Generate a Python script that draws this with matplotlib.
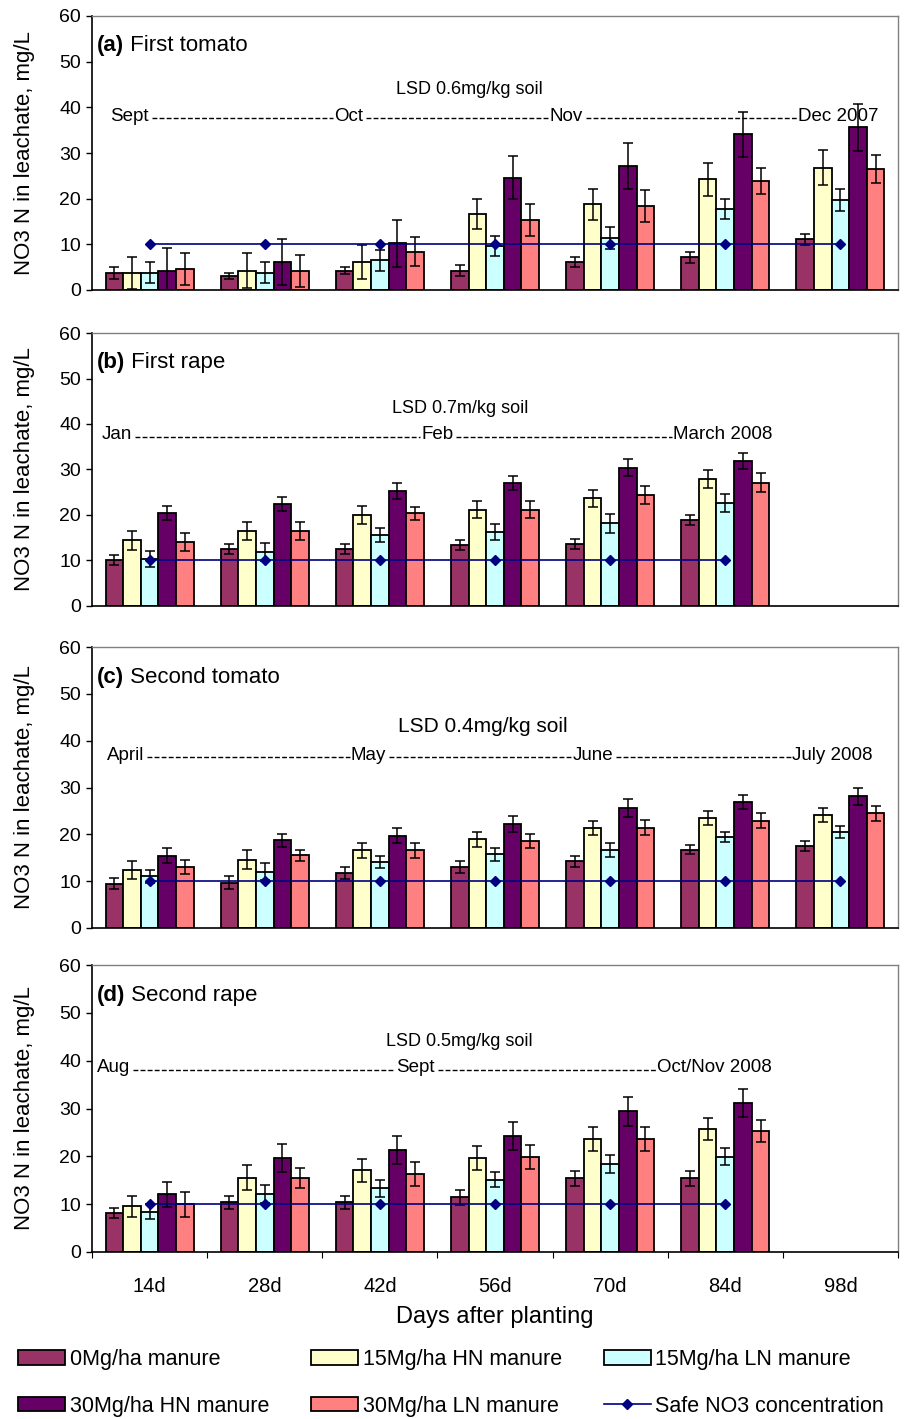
import matplotlib.pyplot as plt
from matplotlib.lines import Line2D

plt.rcParams['font.family'] = ['Liberation Sans', 'DejaVu Sans']

days = ['14d', '28d', '42d', '56d', '70d', '84d', '98d']
treatments = ['0Mg/ha manure', '15Mg/ha HN manure', '15Mg/ha LN manure',
              '30Mg/ha HN manure', '30Mg/ha LN manure']
colors = ['#993366', '#FFFFCC', '#CCFFFF', '#660066', '#FF8080']
safe_no3 = 10

# (a) first tomato
a_0 = [3.8, 3.1, 4.2, 4.2, 6.2, 7.2, 11.1]
a_15hn = [3.8, 4.2, 6.1, 16.6, 18.8, 24.2, 26.8]
a_15ln = [3.8, 3.8, 6.5, 9.7, 11.4, 17.7, 19.8]
a_30hn = [4.2, 6.1, 10.2, 24.6, 27.2, 34.1, 35.6]
a_30ln = [4.6, 4.2, 8.4, 15.3, 18.4, 23.9, 26.5]
a_0_err = [1.3, 0.7, 0.8, 1.2, 1.1, 1.2, 1.2]
a_15hn_err = [3.5, 3.8, 3.7, 3.3, 3.4, 3.7, 3.8]
a_15ln_err = [2.3, 2.3, 2.3, 2.2, 2.4, 2.2, 2.4]
a_30hn_err = [5.0, 5.0, 5.1, 4.7, 5.0, 4.9, 5.1]
a_30ln_err = [3.4, 3.5, 3.1, 3.5, 3.4, 2.9, 3.0]

# (b) first rape
b_0 = [10.1, 12.5, 12.5, 13.3, 13.6, 18.8]
b_15hn = [14.4, 16.5, 20.0, 21.2, 23.7, 27.9]
b_15ln = [10.3, 11.9, 15.6, 16.3, 18.2, 22.7]
b_30hn = [20.4, 22.4, 25.3, 27.1, 30.4, 31.9]
b_30ln = [14.0, 16.5, 20.4, 21.2, 24.4, 27.1]
b_0_err = [1.1, 1.1, 1.1, 1.1, 1.1, 1.1]
b_15hn_err = [2.0, 1.9, 1.9, 1.9, 1.9, 2.0]
b_15ln_err = [1.7, 2.0, 1.6, 1.7, 2.1, 2.0]
b_30hn_err = [1.5, 1.5, 1.8, 1.5, 1.8, 1.7]
b_30ln_err = [2.0, 1.9, 1.4, 1.9, 1.9, 2.1]

# (c) second tomato
c_0 = [9.5, 9.7, 11.8, 13.0, 14.2, 16.7, 17.5]
c_15hn = [12.3, 14.6, 16.6, 19.0, 21.4, 23.4, 24.1]
c_15ln = [11.0, 12.0, 14.1, 15.7, 16.7, 19.4, 20.5]
c_30hn = [15.4, 18.7, 19.7, 22.2, 25.7, 26.9, 28.1]
c_30ln = [13.1, 15.5, 16.6, 18.6, 21.4, 22.9, 24.5]
c_0_err = [1.2, 1.4, 1.3, 1.3, 1.2, 1.0, 1.1]
c_15hn_err = [1.9, 2.0, 1.6, 1.6, 1.5, 1.5, 1.5]
c_15ln_err = [1.4, 1.8, 1.3, 1.3, 1.5, 1.1, 1.2]
c_30hn_err = [1.6, 1.4, 1.6, 1.8, 1.9, 1.5, 1.9]
c_30ln_err = [1.5, 1.2, 1.6, 1.5, 1.6, 1.6, 1.6]

# (d) second rape
d_0 = [8.2, 10.4, 10.4, 11.4, 15.4, 15.4]
d_15hn = [9.6, 15.5, 17.1, 19.6, 23.6, 25.7]
d_15ln = [8.4, 12.1, 13.3, 15.1, 18.4, 19.9]
d_30hn = [12.1, 19.6, 21.3, 24.3, 29.4, 31.2]
d_30ln = [10.0, 15.5, 16.3, 19.9, 23.6, 25.3]
d_0_err = [1.1, 1.4, 1.4, 1.6, 1.6, 1.6]
d_15hn_err = [2.2, 2.6, 2.4, 2.5, 2.5, 2.3]
d_15ln_err = [1.6, 1.9, 1.8, 1.6, 1.8, 1.8]
d_30hn_err = [2.6, 2.9, 3.0, 2.9, 3.0, 2.9]
d_30ln_err = [2.6, 2.1, 2.5, 2.5, 2.5, 2.2]

a_months = [('Sept', -0.34, 'left'), ('Oct', 1.73, 'center'),
            ('Nov', 3.62, 'center'), ('Dec 2007', 6.33, 'right')]
b_months = [('Jan', -0.42, 'left'), ('Feb', 2.50, 'center'),
            ('March 2008', 5.41, 'right')]
c_months = [('April', -0.37, 'left'), ('May', 1.90, 'center'),
            ('June', 3.85, 'center'), ('July 2008', 6.28, 'right')]
d_months = [('Aug', -0.46, 'left'), ('Sept', 2.31, 'center'),
            ('Oct/Nov 2008', 5.40, 'right')]

panels = [
    ('(a)', 'First tomato', [a_0, a_15hn, a_15ln, a_30hn, a_30ln],
     [a_0_err, a_15hn_err, a_15ln_err, a_30hn_err, a_30ln_err],
     'LSD 0.6mg/kg soil', 2.78, 43.8, 13, a_months, 38.1, (16, 290)),
    ('(b)', 'First rape', [b_0, b_15hn, b_15ln, b_30hn, b_30ln],
     [b_0_err, b_15hn_err, b_15ln_err, b_30hn_err, b_30ln_err],
     'LSD 0.7m/kg soil', 2.70, 43.5, 13, b_months, 37.6, (333, 606)),
    ('(c)', 'Second tomato', [c_0, c_15hn, c_15ln, c_30hn, c_30ln],
     [c_0_err, c_15hn_err, c_15ln_err, c_30hn_err, c_30ln_err],
     'LSD 0.4mg/kg soil', 2.89, 43.0, 15, c_months, 36.8, (647, 928)),
    ('(d)', 'Second rape', [d_0, d_15hn, d_15ln, d_30hn, d_30ln],
     [d_0_err, d_15hn_err, d_15ln_err, d_30hn_err, d_30ln_err],
     'LSD 0.5mg/kg soil', 2.69, 44.1, 13, d_months, 38.5, (965, 1252)),
]

W, H = 906, 1419
fig = plt.figure(figsize=(W / 100, H / 100), dpi=100)

bw = 0.153
month_texts = []
for tag, name, means, errs, lsd, lsd_x, lsd_y, lsd_fs, months, month_y, (top, bot) in panels:
    ax = fig.add_axes([92 / W, 1 - bot / H, 806 / W, (bot - top) / H])
    n = len(means[0])
    x = list(range(n))
    handles = []
    for k in range(5):
        xs = [xi + (k - 2) * bw for xi in x]
        h = ax.bar(xs, means[k], bw, color=colors[k], edgecolor='black',
                   linewidth=1.3, zorder=2, label=treatments[k])
        ax.errorbar(xs, means[k], yerr=errs[k], fmt='none', ecolor='black',
                    elinewidth=1.1, capsize=3.4, capthick=1.1, zorder=3)
        handles.append(h)
    ln, = ax.plot(x, [safe_no3] * n, color='#000080', lw=1.2, marker='D',
                  ms=5.2, zorder=4, label='Safe NO3 concentration')
    handles.append(ln)

    ax.set_xlim(-0.5, 6.5)
    ax.set_ylim(0, 60)
    ax.set_yticks(range(0, 61, 10))
    ax.tick_params(axis='y', direction='out', length=4, width=1, pad=4,
                   labelsize=14)
    for s in ('left', 'bottom'):
        ax.spines[s].set_color('black')
        ax.spines[s].set_linewidth(1.2)
    for s in ('top', 'right'):
        ax.spines[s].set_color('#808080')
        ax.spines[s].set_linewidth(1.0)
    ax.set_ylabel('NO3 N in leachate, mg/L', fontsize=16)
    ax.yaxis.set_label_coords(-0.071, 0.5)

    t = ax.text(0.006, 0.893, tag, transform=ax.transAxes, fontsize=16,
                fontweight='bold', va='center', ha='left')
    ax.annotate(' ' + name, xy=(1, 0), xycoords=t, va='bottom', ha='left',
                fontsize=16)
    ax.text(lsd_x, lsd_y, lsd, fontsize=lsd_fs, ha='center', va='center')
    row = [ax.text(mx, month_y, m, fontsize=13.5, ha=ha, va='center')
           for m, mx, ha in months]
    month_texts.append((ax, row))

    if tag == '(d)':
        ax.set_xticks([i - 0.5 for i in range(8)], labels=[''] * 8)
        ax.set_xticks(x + [6], labels=days, minor=True)
        ax.tick_params(axis='x', which='major', direction='out', length=4)
        ax.tick_params(axis='x', which='minor', length=0, pad=18,
                       labelsize=14.5)
        ax.set_xlabel('Days after planting', fontsize=17, labelpad=7)
        legend_handles = handles
    else:
        ax.set_xticks([])

# dashed runs between the month names
fig.canvas.draw()
renderer = fig.canvas.get_renderer()
for ax, row in month_texts:
    inv = ax.transData.inverted()
    for t1, t2 in zip(row[:-1], row[1:]):
        b1 = t1.get_window_extent(renderer)
        b2 = t2.get_window_extent(renderer)
        yy = b1.y0 + 0.40 * b1.height
        p0 = inv.transform((b1.x1 + 3, yy))
        p1 = inv.transform((b2.x0 - 1, yy))
        ax.add_line(Line2D([p0[0], p1[0]], [p0[1], p1[1]], color='black',
                           lw=1.0, dashes=(3.5, 1.6)))

order = [0, 3, 1, 4, 2, 5]
labels = treatments + ['Safe NO3 concentration']
fig.legend([legend_handles[i] for i in order], [labels[i] for i in order],
           loc='upper left', bbox_to_anchor=(18 / W, 1 - 1349 / H), ncol=3,
           frameon=False, fontsize=15.5, handlelength=2.2, handleheight=0.65,
           handletextpad=0.2, columnspacing=1.95, labelspacing=1.2,
           borderpad=0, borderaxespad=0)

fig.savefig('out.png', dpi=100)
